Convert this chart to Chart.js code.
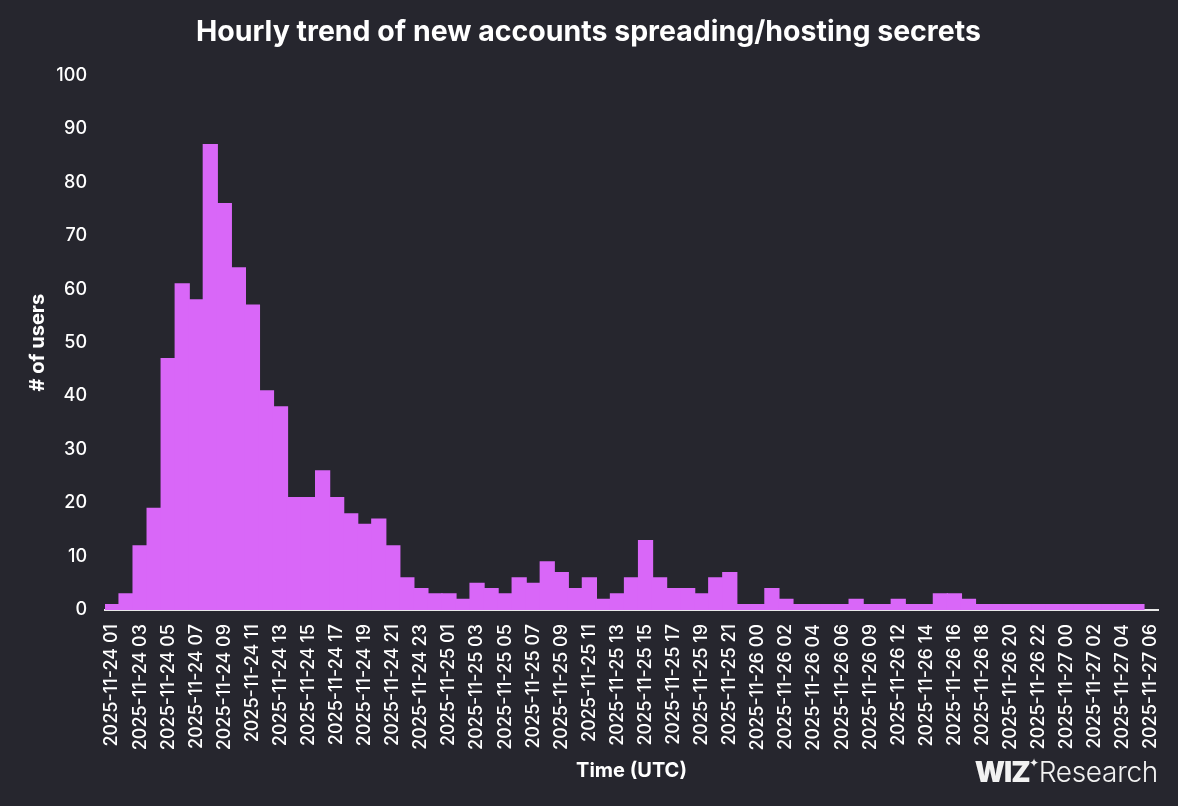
<!DOCTYPE html>
<html>
<head>
<meta charset="utf-8">
<title>Hourly trend of new accounts spreading/hosting secrets</title>
<script src="https://cdn.jsdelivr.net/npm/chart.js@4"></script>
<style>
  html, body { margin: 0; padding: 0; background: #26262e; overflow: hidden; }
  #wrap { position: relative; width: 1178px; height: 806px; }
  #logo { position: absolute; right: 20px; top: 752px; color: #f2f2f2; font-family: Inter, sans-serif; font-size: 28px; line-height: 40px; white-space: nowrap; }
  #logo b { font-weight: 900; font-size: 28px; letter-spacing: -1px; }
  #logo sup { font-size: 12px; position: relative; top: -9px; vertical-align: top; margin: 0 0 0 -1px; }
  #logo span { font-weight: 300; letter-spacing: -0.3px; }
</style>
</head>
<body>
<div id="wrap">
  <canvas id="graph1" width="1178" height="806"></canvas>
  <div id="logo"><b>WIZ</b><sup>✦</sup><span>Research</span></div>
</div>
<script>
// =======================
// Data
// =======================
const hours = [
  "2025-11-24 01", "2025-11-24 02", "2025-11-24 03", "2025-11-24 04", "2025-11-24 05",
  "2025-11-24 06", "2025-11-24 07", "2025-11-24 08", "2025-11-24 09", "2025-11-24 10",
  "2025-11-24 11", "2025-11-24 12", "2025-11-24 13", "2025-11-24 14", "2025-11-24 15",
  "2025-11-24 16", "2025-11-24 17", "2025-11-24 18", "2025-11-24 19", "2025-11-24 20",
  "2025-11-24 21", "2025-11-24 22", "2025-11-24 23", "2025-11-25 00", "2025-11-25 01",
  "2025-11-25 02", "2025-11-25 03", "2025-11-25 04", "2025-11-25 05", "2025-11-25 06",
  "2025-11-25 07", "2025-11-25 08", "2025-11-25 09", "2025-11-25 10", "2025-11-25 11",
  "2025-11-25 12", "2025-11-25 13", "2025-11-25 14", "2025-11-25 15", "2025-11-25 16",
  "2025-11-25 17", "2025-11-25 18", "2025-11-25 19", "2025-11-25 20", "2025-11-25 21",
  "2025-11-25 22", "2025-11-26 00", "2025-11-26 01", "2025-11-26 02", "2025-11-26 03",
  "2025-11-26 04", "2025-11-26 05", "2025-11-26 06", "2025-11-26 08", "2025-11-26 09",
  "2025-11-26 11", "2025-11-26 12", "2025-11-26 13", "2025-11-26 14", "2025-11-26 15",
  "2025-11-26 16", "2025-11-26 17", "2025-11-26 18", "2025-11-26 19", "2025-11-26 20",
  "2025-11-26 21", "2025-11-26 22", "2025-11-26 23", "2025-11-27 00", "2025-11-27 01",
  "2025-11-27 02", "2025-11-27 03", "2025-11-27 04", "2025-11-27 05", "2025-11-27 06"
];

const users = [
  1, 3, 12, 19, 47, 61, 58, 87, 76, 64,
  57, 41, 38, 21, 21, 26, 21, 18, 16, 17,
  12, 6, 4, 3, 3, 2, 5, 4, 3, 6,
  5, 9, 7, 4, 6, 2, 3, 6, 13, 6,
  4, 4, 3, 6, 7, 1, 1, 4, 2, 1,
  1, 1, 1, 2, 1, 1, 2, 1, 1, 3,
  3, 2, 1, 1, 1, 1, 1, 1, 1, 1,
  1, 1, 1, 1, null
];

const yTicks = [0, 10, 20, 30, 40, 50, 60, 70, 80, 90, 100];

// =======================
// Chart
// =======================
const font = "Inter, sans-serif";

new Chart(document.getElementById("graph1"), {
  type: "bar",
  data: {
    labels: hours,
    datasets: [{
      label: "# of users",
      data: users,
      backgroundColor: "#d967f8",
      borderWidth: 0,
      inflateAmount: 0.6,
      barPercentage: 1,
      categoryPercentage: 1
    }]
  },
  options: {
    responsive: false,
    animation: false,
    layout: { padding: { left: 19, right: 20, top: 12, bottom: 0 } },
    plugins: {
      legend: { display: false },
      tooltip: { enabled: false },
      title: {
        display: true,
        text: "Hourly trend of new accounts spreading/hosting secrets",
        color: "#ffffff",
        font: { family: font, size: 28.5, weight: "700" },
        padding: { top: 3, bottom: 26 }
      }
    },
    scales: {
      x: {
        // fixed box so the plot sits where the picture has it
        afterFit: function (scale) {
          scale.height = 196;
          scale.paddingLeft = 0;
          scale.paddingRight = 0;
        },
        grid: { display: false, drawTicks: false },
        border: { color: "#e8e8e8", width: 2 },
        title: {
          display: true,
          text: "Time (UTC)",
          color: "#ffffff",
          font: { family: font, size: 20, weight: "700" },
          padding: { top: 12, bottom: 23 }
        },
        ticks: {
          color: "#ffffff",
          font: { family: font, size: 18, weight: "500" },
          autoSkip: false,
          minRotation: 90,
          maxRotation: 90,
          padding: 14,
          callback: function (value, index) {
            return index % 2 === 0 ? hours[index] : "";
          }
        }
      },
      y: {
        min: 0,
        max: 100,
        afterBuildTicks: function (scale) {
          scale.ticks = yTicks.map(v => ({ value: v }));
        },
        afterFit: function (scale) {
          scale.width = 86;
          scale.paddingTop = 0;
          scale.paddingBottom = 0;
        },
        grid: { display: false, drawTicks: false },
        border: { display: false },
        title: {
          display: true,
          text: "# of users",
          color: "#ffffff",
          font: { family: font, size: 20, weight: "700" },
          padding: { top: 7, bottom: 18 }
        },
        ticks: {
          color: "#ffffff",
          font: { family: font, size: 18, weight: "500" },
          padding: 18
        }
      }
    }
  }
});
</script>
</body>
</html>
